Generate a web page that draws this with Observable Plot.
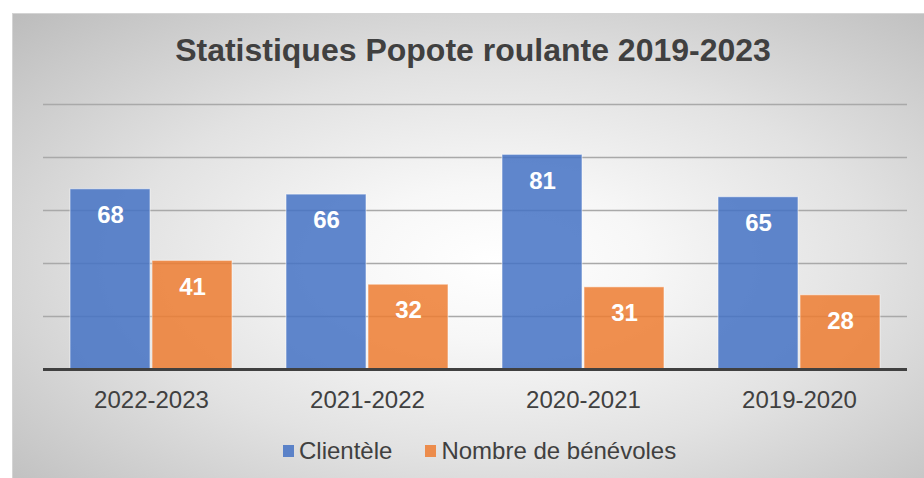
<!DOCTYPE html>
<html>
<head>
<meta charset="utf-8">
<script src="https://cdn.jsdelivr.net/npm/d3@7"></script>
<script src="https://cdn.jsdelivr.net/npm/@observablehq/plot@0.6"></script>
<style>
  html, body { margin: 0; padding: 0; width: 924px; height: 478px; overflow: hidden; background: #ffffff; }
  body { position: relative; font-family: "Liberation Sans", Arial, sans-serif; }
  #frame {
    position: absolute; left: 12px; top: 13px; width: 930px; height: 480px;
    border: 1px solid #d4d4d4; box-sizing: border-box;
    background: radial-gradient(ellipse farthest-corner at 52% 52%, #ffffff 0%, #f7f7f7 22%, #e2e2e2 55%, #c9c9c9 85%, #bcbcbc 100%);
  }
  #title {
    position: absolute; left: 0; width: 946px; top: 31px; text-align: center;
    font-size: 32px; font-weight: bold; color: #404040; line-height: 38px; white-space: nowrap;
  }
  #chart { position: absolute; left: 0; top: 90px; }
  #legend {
    position: absolute; left: 283px; top: 438px; display: flex; align-items: center;
    font-size: 24px; color: #404040; line-height: 26px; white-space: nowrap;
  }
  .item { display: flex; align-items: center; }
  .sw { width: 11px; height: 12px; margin-right: 5px; }
</style>
</head>
<body>
<div id="frame"></div>
<div id="title">Statistiques Popote roulante 2019-2023</div>
<div id="chart"></div>
<div id="legend"></div>
<script>
const periods = ["2022-2023", "2021-2022", "2020-2021", "2019-2020"];
const seriesNames = ["Clientèle", "Nombre de bénévoles"];
const clientele = [68, 66, 81, 65];
const benevoles = [41, 32, 31, 28];
const colors = ["#4472C4", "#ED7D31"];
const gridValues = [20, 40, 60, 80, 100];

const data = [];
periods.forEach((p, i) => {
  data.push({period: p, series: seriesNames[0], value: clientele[i]});
  data.push({period: p, series: seriesNames[1], value: benevoles[i]});
});

const plot = Plot.plot({
  width: 924,
  height: 330,
  marginLeft: 42,
  marginRight: 16,
  marginTop: 14,
  marginBottom: 51,
  style: {background: "transparent", fontFamily: "'Liberation Sans', Arial, sans-serif", overflow: "visible"},
  fx: {domain: periods, paddingInner: 0, paddingOuter: 0, label: null},
  x: {domain: seriesNames, paddingInner: 0.02, paddingOuter: 0.32, axis: null},
  y: {domain: [0, 100], axis: null},
  color: {domain: seriesNames, range: colors},
  marks: [
    Plot.ruleY(gridValues, {stroke: "#a9a9a9", strokeWidth: 1.4}),
    Plot.barY(data, {fx: "period", x: "series", y: "value", fill: "series", fillOpacity: 0.85,
      stroke: "#ffffff", strokeOpacity: 0.55, strokeWidth: 1}),
    Plot.text(data, {fx: "period", x: "series", y: "value", text: d => String(d.value), dy: 26,
      fill: "#ffffff", fontSize: 24, fontWeight: "bold"}),
    Plot.ruleY([0], {stroke: "#404040", strokeWidth: 3.2}),
    Plot.axisFx({anchor: "bottom", tickSize: 0, tickPadding: 21, fontSize: 24, fill: "#404040", label: null})
  ]
});
document.getElementById("chart").appendChild(plot);

const legend = document.getElementById("legend");
seriesNames.forEach((name, i) => {
  const item = document.createElement("div");
  item.className = "item";
  if (i > 0) item.style.marginLeft = "33px";
  const sw = document.createElement("span");
  sw.className = "sw";
  sw.style.background = colors[i];
  sw.style.opacity = 0.85;
  item.appendChild(sw);
  const t = document.createElement("span");
  t.textContent = name;
  item.appendChild(t);
  legend.appendChild(item);
});
</script>
</body>
</html>
